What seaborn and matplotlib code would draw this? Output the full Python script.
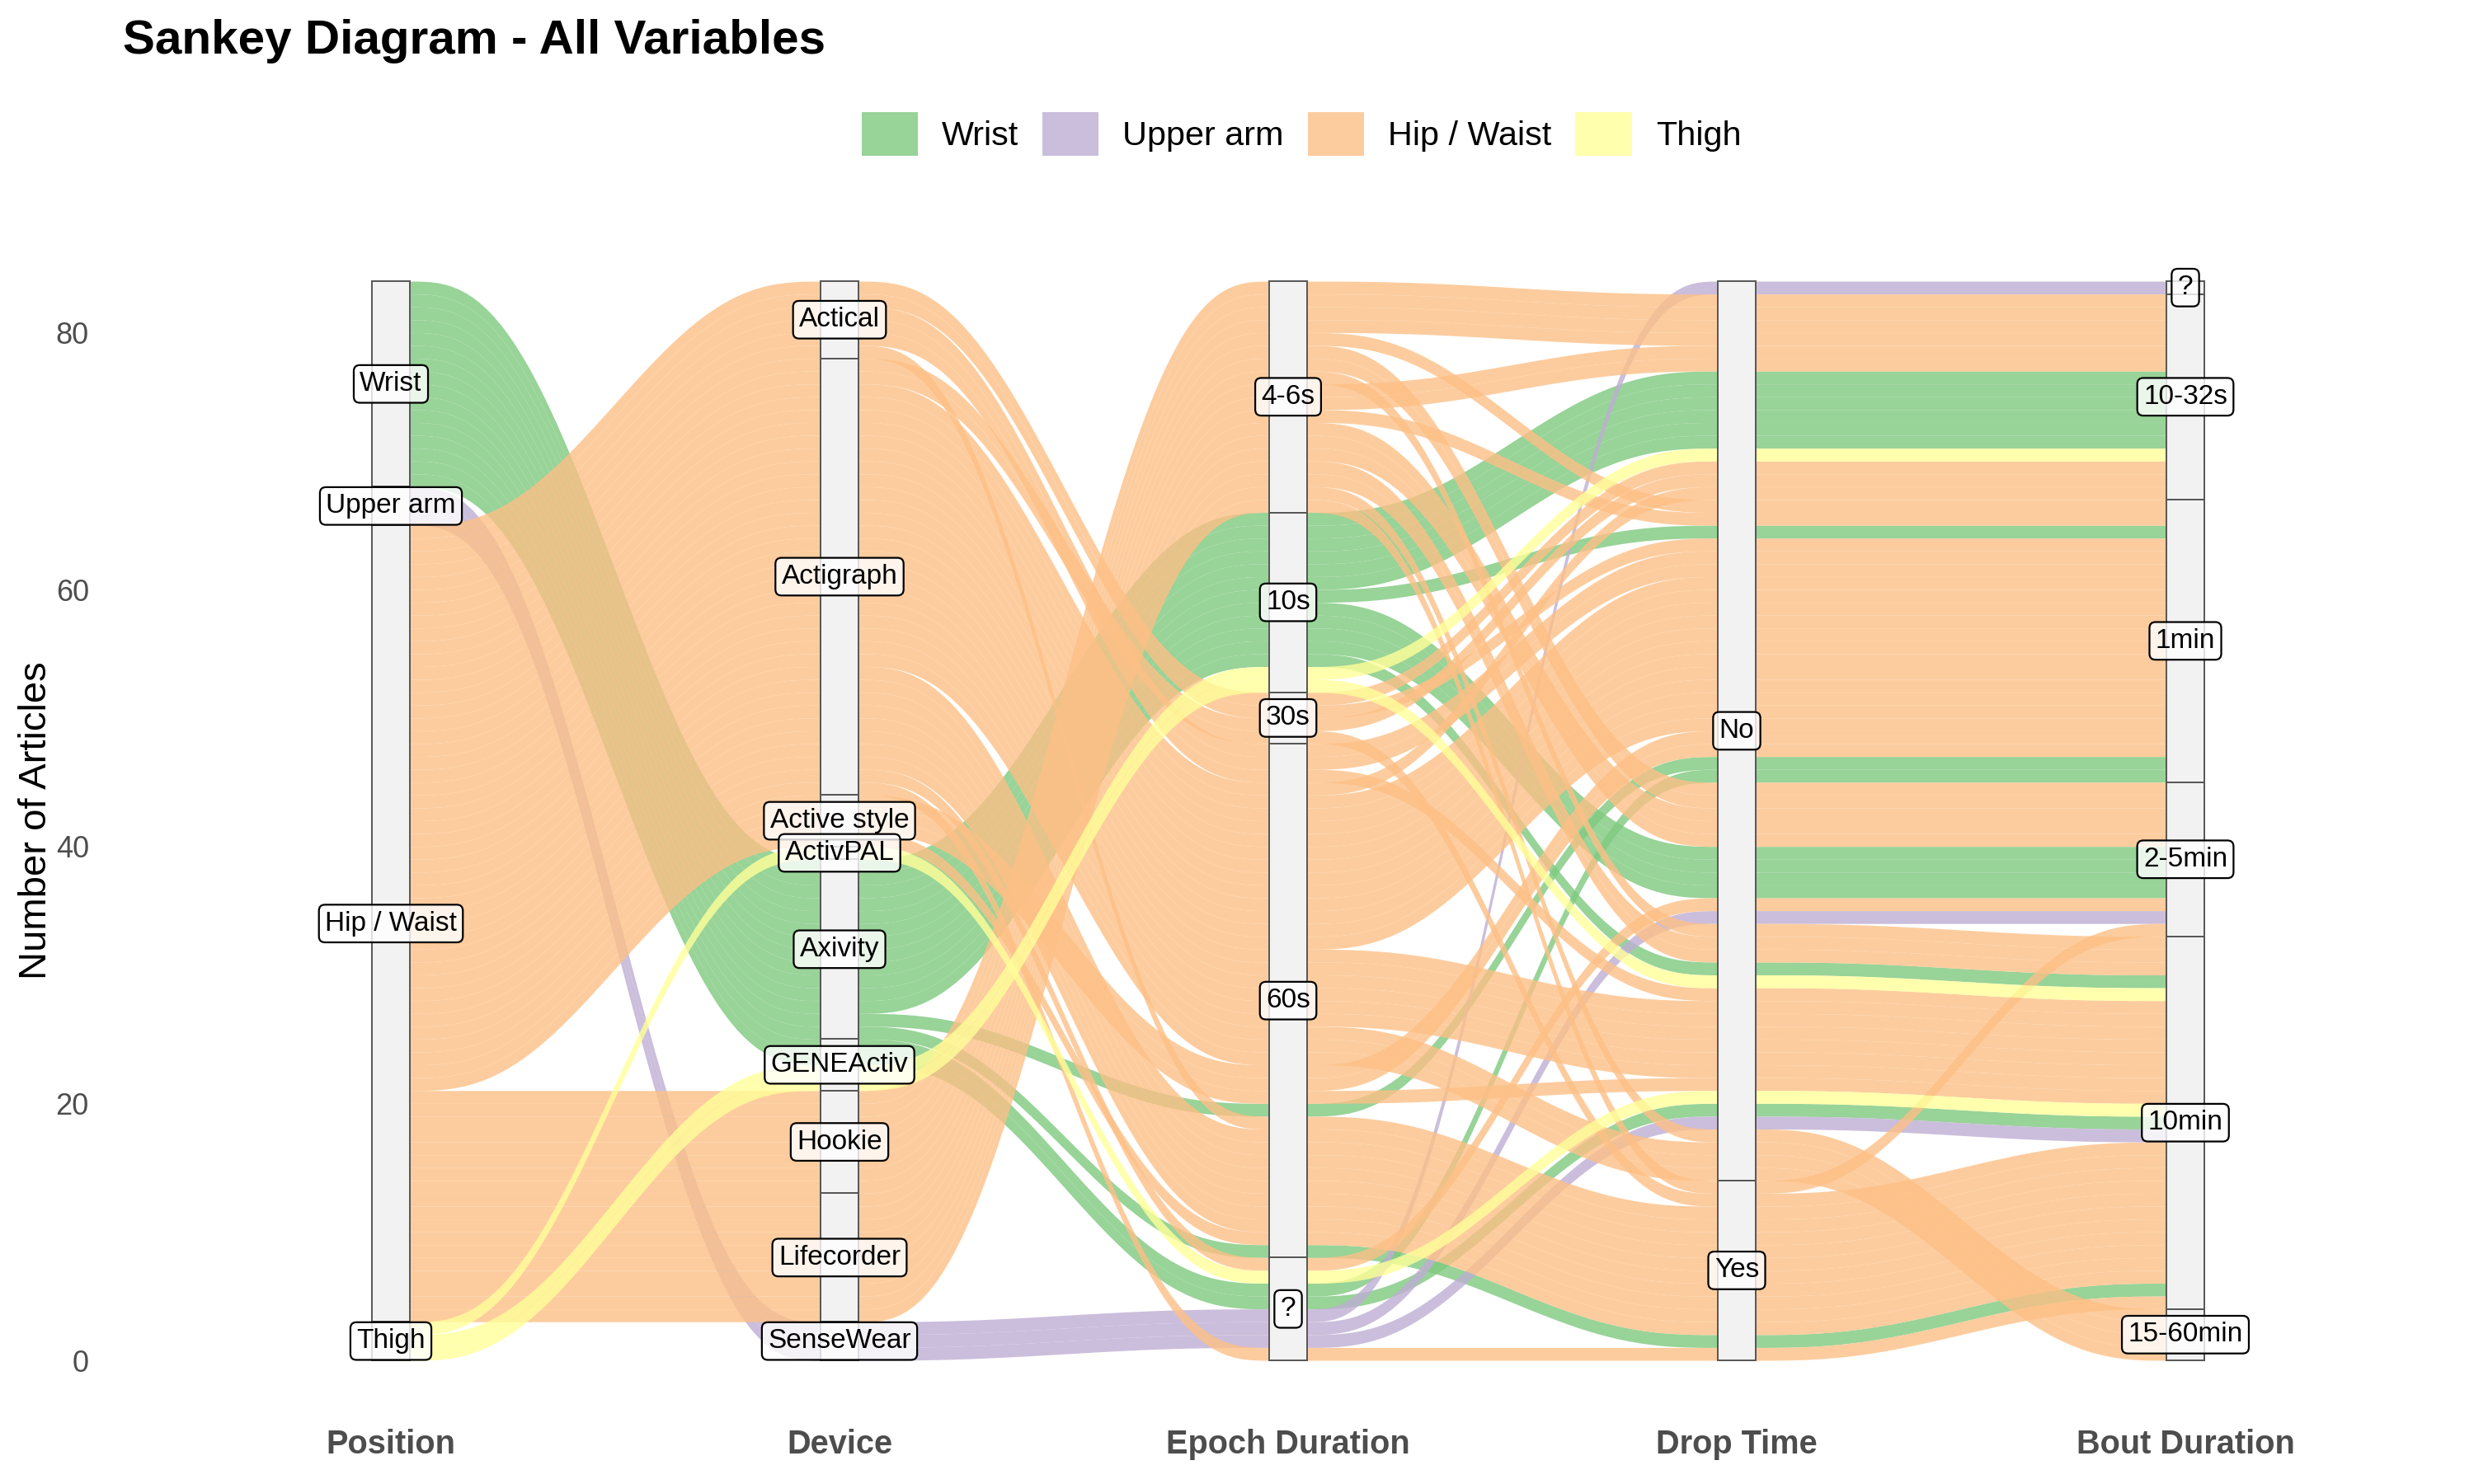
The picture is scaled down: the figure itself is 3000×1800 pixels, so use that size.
import numpy as np
import pandas as pd
import matplotlib
matplotlib.use("Agg")
import matplotlib.pyplot as plt
import seaborn as sns
from matplotlib.patches import Rectangle, Patch

axis_names = ["Position", "Device", "Epoch Duration", "Drop Time", "Bout Duration"]
position_levels = ["Wrist", "Upper arm", "Hip / Waist", "Thigh"]
device_levels = ["Actical", "Actigraph", "Active style", "ActivPAL", "Axivity",
                 "GENEActiv", "Hookie", "Lifecorder", "SenseWear"]
epoch_levels = ["4-6s", "10s", "30s", "60s", "?"]
drop_levels = ["No", "Yes"]
bout_levels = ["?", "10-32s", "1min", "2-5min", "10min", "15-60min"]

# one entry per combination of answers, n_articles = how many articles share it
position = ["Wrist"] * 8 + ["Upper arm"] * 3 + ["Hip / Waist"] * 27 + ["Thigh"] * 3
device = ["Axivity"] * 6 + ["GENEActiv"] * 2 + ["SenseWear"] * 3 \
    + ["Actical"] * 5 + ["Actigraph"] * 9 + ["Active style"] * 3 \
    + ["Hookie"] * 4 + ["Lifecorder"] * 6 + ["GENEActiv"] * 2 + ["ActivPAL"]
epoch = ["10s", "10s", "10s", "10s", "60s", "60s", "?", "?",
         "?", "?", "?",
         "30s", "30s", "60s", "60s", "60s",
         "30s", "30s", "60s", "60s", "60s", "60s", "60s", "?", "?",
         "60s", "60s", "60s",
         "4-6s", "4-6s", "4-6s", "4-6s",
         "4-6s", "4-6s", "4-6s", "4-6s", "4-6s", "4-6s",
         "10s", "10s", "?"]
drop = ["No", "No", "No", "No", "No", "Yes", "No", "No",
        "No", "No", "No",
        "No", "No", "No", "No", "Yes",
        "No", "Yes", "No", "No", "No", "No", "Yes", "No", "Yes",
        "No", "No", "Yes",
        "No", "No", "No", "No",
        "No", "No", "No", "No", "No", "Yes",
        "No", "No", "No"]
bout = ["10-32s", "1min", "2-5min", "10min", "1min", "10min", "1min", "10min",
        "?", "2-5min", "10min",
        "10-32s", "1min", "1min", "10min", "10min",
        "10-32s", "10min", "10-32s", "1min", "10min", "15-60min", "10min", "2-5min", "10min",
        "1min", "10min", "10min",
        "10-32s", "1min", "2-5min", "10min",
        "10-32s", "1min", "2-5min", "10min", "15-60min", "2-5min",
        "10-32s", "10min", "10min"]
n_articles = [6, 1, 4, 1, 1, 1, 1, 1,
              1, 1, 1,
              1, 1, 2, 1, 1,
              1, 1, 1, 12, 6, 3, 8, 1, 1,
              2, 1, 1,
              4, 1, 2, 1,
              2, 1, 3, 2, 1, 1,
              1, 1, 1]

combos = pd.DataFrame({"position": position, "device": device, "epoch": epoch,
                       "drop": drop, "bout": bout, "n": n_articles})
articles = combos.loc[combos.index.repeat(combos["n"])].reset_index(drop=True)

cols = ["position", "device", "epoch", "drop", "bout"]
levels = [position_levels, device_levels, epoch_levels, drop_levels, bout_levels]
codes = np.column_stack([articles[c].map({v: k for k, v in enumerate(lv)}).values
                         for c, lv in zip(cols, levels)])
total = len(articles)

# lode order inside each stratum (zigzag guidance like ggalluvial)
guide = {0: [0, 1, 2, 3, 4], 1: [1, 0, 2, 3, 4], 2: [2, 3, 1, 4, 0],
         3: [3, 4, 2, 1, 0], 4: [4, 3, 2, 1, 0]}
y_lo = np.zeros((total, 5))
y_hi = np.zeros((total, 5))
for i in range(5):
    order = sorted(range(total), key=lambda r: tuple(codes[r, k] for k in guide[i]) + (r,))
    top = total
    for r in order:
        y_hi[r, i] = top
        y_lo[r, i] = top - 1
        top -= 1

sns.set_theme(style="white")
plt.rcParams["font.family"] = ["Liberation Sans", "DejaVu Sans"]
palette = sns.color_palette("Accent", 4)
fill_colors = dict(zip(position_levels, palette))

fig = plt.figure(figsize=(15, 9), dpi=200)
ax = fig.add_axes([130 / 3000, 1 - 1700 / 1800, (2985 - 130) / 3000, (1700 - 290) / 1800])

w = 46 / 544
t = np.linspace(0, 1, 60)
s = t ** 3 * (10 - 15 * t + 6 * t ** 2)

for r in range(total):
    xs, lo, hi = [], [], []
    for i in range(5):
        x = i + 1
        xs += [x - w / 2, x + w / 2]
        lo += [y_lo[r, i]] * 2
        hi += [y_hi[r, i]] * 2
        if i < 4:
            xs += list(x + w / 2 + t[1:-1] * (1 - w))
            lo += list(y_lo[r, i] + s[1:-1] * (y_lo[r, i + 1] - y_lo[r, i]))
            hi += list(y_hi[r, i] + s[1:-1] * (y_hi[r, i + 1] - y_hi[r, i]))
    ax.fill_between(xs, lo, hi, color=fill_colors[articles.loc[r, "position"]],
                    alpha=0.8, linewidth=0, zorder=1)

# strata boxes and labels
for i, (c, lv) in enumerate(zip(cols, levels)):
    counts = articles[c].value_counts()
    top = total
    for name in lv:
        k = counts.get(name, 0)
        if k == 0:
            continue
        ax.add_patch(Rectangle((i + 1 - w / 2, top - k), w, k, facecolor="#F2F2F2",
                               edgecolor="#555555", linewidth=0.7, zorder=3))
        ax.text(i + 1, top - k / 2, name, ha="center", va="center", fontsize=12,
                color="black", zorder=4,
                bbox=dict(boxstyle="round,pad=0.22", facecolor=(1, 1, 1, 0.8),
                          edgecolor="black", linewidth=0.8))
        top -= k

ax.set_xlim(1 - 344 / 544, 1 + 2511 / 544)
ax.set_ylim(-50 / 15.583, 1360 / 15.583)
ax.set_xticks(range(1, 6))
ax.set_xticklabels(axis_names, fontsize=14.3, fontweight="bold", color="#4D4D4D")
ax.set_yticks([0, 20, 40, 60, 80])
ax.tick_params(axis="y", labelsize=13, labelcolor="#4D4D4D", length=0, pad=8)
ax.tick_params(axis="x", length=0, pad=12)
ax.set_ylabel("Number of Articles", fontsize=17, color="black")
ax.yaxis.set_label_coords(-0.0225, 0.5)
ax.grid(False)
sns.despine(ax=ax, left=True, bottom=True)

handles = [Patch(facecolor=fill_colors[p], alpha=0.8, edgecolor="none") for p in position_levels]
leg = fig.legend(handles, position_levels, loc="center", bbox_to_anchor=(0.526, 0.9097), ncol=4,
                 frameon=False, fontsize=14.9, handlelength=1.65, handleheight=1.6,
                 handletextpad=0.7, columnspacing=0.7)
for txt in leg.get_texts():
    txt.set_color("black")

fig.text(149 / 3000, 0.972, "Sankey Diagram - All Variables", fontsize=21,
         fontweight="bold", color="black", ha="left", va="center")

fig.savefig("out.png", dpi=200)
